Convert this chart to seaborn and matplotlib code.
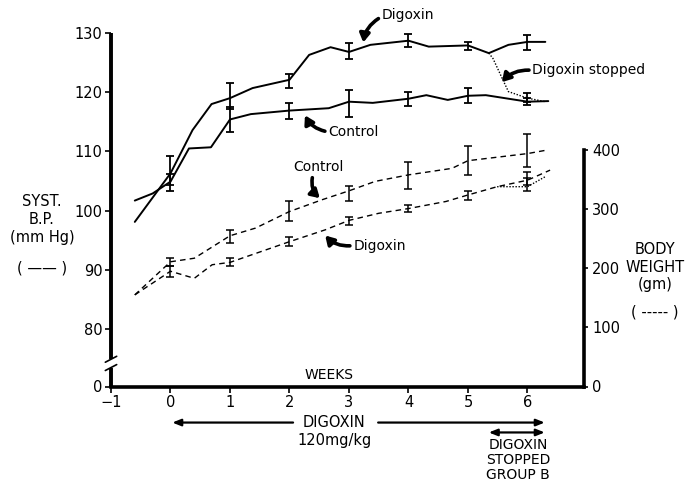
import numpy as np
import matplotlib
matplotlib.use("Agg")
import matplotlib.pyplot as plt
import seaborn as sns

# systolic BP (mm Hg), solid lines
bp_dig_weeks = [-0.6, 0, 0.37, 0.69, 1, 1.38, 2, 2.33, 2.69, 3, 3.36, 4, 4.34, 5, 5.35, 5.68, 6, 6.3]
bp_dig = [98.1, 106.3, 113.6, 118.0, 119.0, 120.7, 122.1, 126.3, 127.6, 126.8, 128.0, 128.7, 127.7, 127.9, 126.6, 128.0, 128.5, 128.5]
bp_ctl_weeks = [-0.6, -0.3, 0, 0.31, 0.68, 1, 1.35, 2, 2.66, 3, 3.4, 4, 4.3, 4.66, 5, 5.3, 6, 6.35]
bp_ctl = [101.7, 102.9, 104.9, 110.5, 110.7, 115.4, 116.3, 116.9, 117.3, 118.4, 118.2, 118.9, 119.5, 118.7, 119.4, 119.5, 118.4, 118.5]
bp_stop_weeks = [5.35, 5.42, 5.6, 5.68, 6, 6.3]
bp_stop = [126.6, 125.7, 121.8, 120.1, 119.0, 118.4]

# error bars (weeks 0..6)
bar_weeks = [0, 1, 2, 3, 4, 5, 6]
bp_dig_lo = [104.3, 117.2, 120.7, 125.6, 127.7, 127.1, 127.2]
bp_dig_hi = [109.3, 121.5, 123.1, 128.3, 129.8, 128.5, 129.7]
bp_ctl_lo = [103.4, 113.2, 115.4, 115.8, 117.7, 118.1, 117.8]
bp_ctl_hi = [106.2, 117.5, 118.2, 120.3, 120.1, 120.7, 119.1]
bp_stop_lo = [118.3]
bp_stop_hi = [119.8]

# body weight (gm), dashed lines
wt_ctl_weeks = [-0.6, 0, 0.4, 1, 1.43, 2, 2.55, 3, 3.44, 4, 4.73, 5, 6, 6.33]
wt_ctl = [155, 211, 217, 255, 268, 296, 316, 331, 347, 358, 369, 382, 394, 400]
wt_dig_weeks = [-0.6, 0, 0.4, 0.7, 1, 2, 2.6, 3, 3.5, 4, 4.63, 5, 5.49, 6, 6.38]
wt_dig = [155, 195, 183, 206, 210, 245, 265, 281, 293, 301, 313, 324, 338, 349, 366]
wt_stop_weeks = [5.49, 6, 6.3]
wt_stop = [338, 338, 355]

wt_ctl_lo = [204, 242, 280, 314, 334, 358, 372]
wt_ctl_hi = [217, 265, 313, 340, 380, 406, 427]
wt_dig_lo = [186, 203, 238, 273, 296, 316, 341]
wt_dig_hi = [203, 217, 253, 287, 307, 331, 363]
wt_stop_lo = [330]
wt_stop_hi = [353]

x_ticks = [-1, 0, 1, 2, 3, 4, 5, 6]
bp_ticks = [80, 90, 100, 110, 120, 130]
wt_ticks = [0, 100, 200, 300, 400]

sns.set_style("ticks")
plt.rcParams["font.family"] = ["DejaVu Sans"]
for k in ("text.color", "axes.labelcolor", "xtick.color", "ytick.color", "axes.edgecolor"):
    plt.rcParams[k] = "black"

W, H = 689, 483
fig = plt.figure(figsize=(W / 100, H / 100), dpi=100)
ax = fig.add_axes([111 / W, 1 - 386.5 / H, 473 / W, 353.5 / H])
ax2 = ax.twinx()

BP0 = 70.3  # where the broken axis puts 0 mm Hg
ax.set_xlim(-1, 6.95)
ax.set_ylim(BP0, 130)
ax2.set_ylim(0, 598)


def bars(a, lo, hi, weeks, lw=1.3):
    lo = np.array(lo)
    hi = np.array(hi)
    mid = (lo + hi) / 2
    a.errorbar(weeks, mid, yerr=[mid - lo, hi - mid], fmt="none", ecolor="black",
               elinewidth=lw, capsize=3, capthick=lw)


sns.lineplot(x=bp_dig_weeks, y=bp_dig, ax=ax, sort=False, estimator=None, color="black", lw=1.4)
sns.lineplot(x=bp_ctl_weeks, y=bp_ctl, ax=ax, sort=False, estimator=None, color="black", lw=1.4)
sns.lineplot(x=bp_stop_weeks, y=bp_stop, ax=ax, sort=False, estimator=None, color="black", lw=1.0,
             linestyle=(0, (1, 1.2)))
bars(ax, bp_dig_lo, bp_dig_hi, bar_weeks)
bars(ax, bp_ctl_lo, bp_ctl_hi, bar_weeks)
bars(ax, bp_stop_lo, bp_stop_hi, [6])

sns.lineplot(x=wt_ctl_weeks, y=wt_ctl, ax=ax2, sort=False, estimator=None, color="black", lw=1.0,
             linestyle=(0, (4, 3)))
sns.lineplot(x=wt_dig_weeks, y=wt_dig, ax=ax2, sort=False, estimator=None, color="black", lw=1.0,
             linestyle=(0, (4, 3)))
sns.lineplot(x=wt_stop_weeks, y=wt_stop, ax=ax2, sort=False, estimator=None, color="black", lw=1.0,
             linestyle=(0, (1, 1.2)))
bars(ax2, wt_ctl_lo, wt_ctl_hi, bar_weeks, lw=1.1)
bars(ax2, wt_dig_lo, wt_dig_hi, bar_weeks, lw=1.1)
bars(ax2, wt_stop_lo, wt_stop_hi, [6], lw=1.1)

# axes styling
for a in (ax, ax2):
    a.spines["top"].set_visible(False)
    a.set_xlabel("")
    a.set_ylabel("")
ax.spines["right"].set_visible(False)
ax.spines["left"].set_visible(False)
ax2.spines["left"].set_visible(False)
ax2.spines["bottom"].set_visible(False)
ax.spines["bottom"].set_linewidth(2.6)
ax2.spines["right"].set_linewidth(2.6)
ax2.spines["right"].set_bounds(0, 400)

ax.set_xticks(x_ticks)
ax.set_xticklabels(["\u22121"] + [str(t) for t in x_ticks[1:]])
ax.set_yticks([BP0] + bp_ticks)
ax.set_yticklabels(["0"] + [str(t) for t in bp_ticks])
ax2.set_yticks(wt_ticks)
ax.tick_params(axis="both", labelsize=10.5, length=4, width=1.2, pad=2, color="black")
ax2.tick_params(axis="y", labelsize=10.5, length=3, width=1.2, pad=3)

# broken left spine
ytr = ax.get_yaxis_transform()
ax.plot([0, 0], [BP0, 73.5], transform=ytr, color="black", lw=2.8, clip_on=False, solid_capstyle="butt")
ax.plot([0, 0], [74.9, 130], transform=ytr, color="black", lw=2.8, clip_on=False, solid_capstyle="butt")
ax.plot([-0.012, 0.012], [73.0, 74.0], transform=ytr, color="black", lw=1.2, clip_on=False)
ax.plot([-0.012, 0.012], [74.4, 75.4], transform=ytr, color="black", lw=1.2, clip_on=False)

# curved annotation arrows
arrow = dict(arrowstyle="-|>,head_length=0.5,head_width=0.3", color="black", lw=2.6,
             shrinkA=0, shrinkB=0)
ax.annotate("Digoxin", xy=(3.24, 128.4), xytext=(3.55, 133.0), fontsize=10, va="center", ha="left",
            annotation_clip=False,
            arrowprops=dict(arrow, connectionstyle="arc3,rad=0.25", relpos=(0, 0.4)))
ax.annotate("Digoxin stopped", xy=(5.57, 121.7), xytext=(6.08, 123.7), fontsize=10, va="center",
            ha="left", annotation_clip=False,
            arrowprops=dict(arrow, connectionstyle="arc3,rad=0.25", relpos=(0, 0.5)))
ax.annotate("Control", xy=(2.26, 116.1), xytext=(2.65, 113.3), fontsize=10, va="center", ha="left",
            arrowprops=dict(arrow, connectionstyle="arc3,rad=-0.25", relpos=(0, 0.5)))
ax.annotate("Control", xy=(2.51, 102.1), xytext=(2.48, 107.3), fontsize=10, va="center", ha="center",
            arrowprops=dict(arrow, connectionstyle="arc3,rad=0.3", relpos=(0.4, 0)))
ax.annotate("Digoxin", xy=(2.60, 95.8), xytext=(3.07, 94.1), fontsize=10, va="center", ha="left",
            arrowprops=dict(arrow, connectionstyle="arc3,rad=-0.25", relpos=(0, 0.5)))

ax.text(2.66, 72.2, "WEEKS", fontsize=10, ha="center", va="center")

# treatment arrows under the axis
xtr = ax.get_xaxis_transform()
line_arrow = dict(arrowstyle="-|>,head_length=0.5,head_width=0.2", color="black", lw=1.6,
                  shrinkA=0, shrinkB=0)
ax.annotate("", xy=(0.03, -0.102), xytext=(2.06, -0.102), xycoords=xtr, textcoords=xtr,
            arrowprops=line_arrow, annotation_clip=False)
ax.annotate("", xy=(6.29, -0.102), xytext=(3.49, -0.102), xycoords=xtr, textcoords=xtr,
            arrowprops=line_arrow, annotation_clip=False)
ax.annotate("", xy=(6.29, -0.130), xytext=(5.35, -0.130), xycoords=xtr, textcoords=xtr,
            arrowprops=dict(line_arrow, arrowstyle="<|-|>,head_length=0.5,head_width=0.2"),
            annotation_clip=False)
ax.text(2.75, -0.102, "DIGOXIN", transform=xtr, fontsize=10.5, ha="center", va="center")
ax.text(2.75, -0.152, "120mg/kg", transform=xtr, fontsize=10.5, ha="center", va="center")
for i, s in enumerate(["DIGOXIN", "STOPPED", "GROUP B"]):
    ax.text(5.84, -0.166 - i * 0.042, s, transform=xtr, fontsize=10, ha="center", va="center")

# axis titles
for s, y in [("SYST.", 202), ("B.P.", 220), ("(mm Hg)", 238), ("( \u2014\u2014 )", 268)]:
    fig.text(42 / W, 1 - y / H, s, fontsize=10.5, ha="center", va="center")
for s, y in [("BODY", 250), ("WEIGHT", 267), ("(gm)", 285), ("( ----- )", 312)]:
    fig.text(655 / W, 1 - y / H, s, fontsize=10.5, ha="center", va="center")

fig.savefig("out.png", dpi=100)
